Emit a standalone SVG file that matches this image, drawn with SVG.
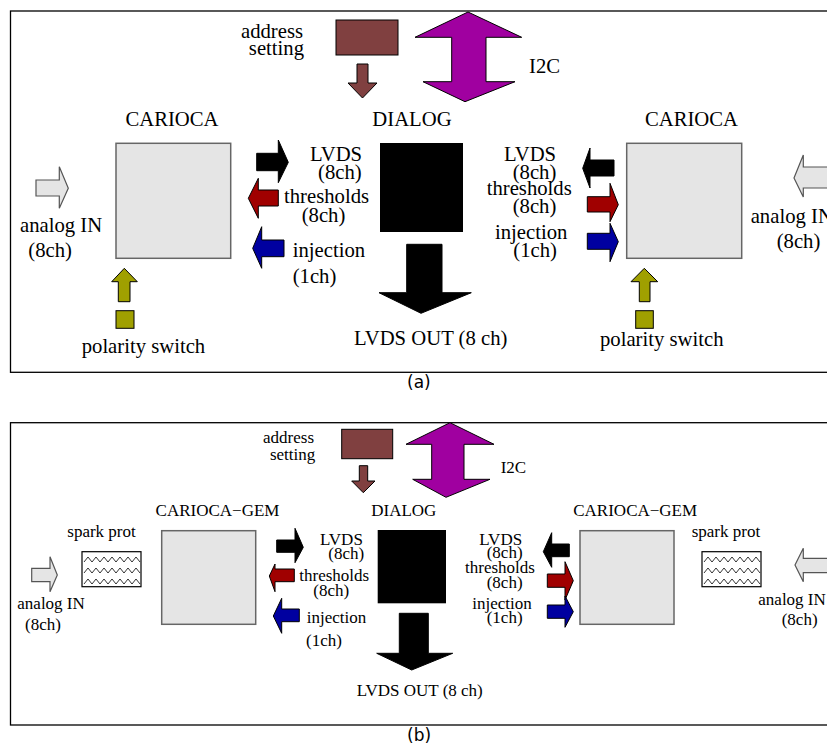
<svg xmlns="http://www.w3.org/2000/svg" width="827" height="743" viewBox="0 0 827 743">
<style>
text{font-family:"Liberation Serif","Times New Roman",serif;fill:#000}
.t{font-size:20.7px}
.b{font-size:17px}
.cap{font-family:"DejaVu Sans",sans-serif;font-size:17px}
.frame{fill:none;stroke:#000;stroke-width:1.3}
.chip{fill:#e5e5e5;stroke:#666;stroke-width:1.5}
.dlg{fill:#000}
.addr{fill:#804040;stroke:#000;stroke-width:1}
.spark{fill:#fff;stroke:#000;stroke-width:1.2}
.zz{fill:none;stroke:#000;stroke-width:0.8}
.sw{fill:#a0a000;stroke:#000;stroke-width:1}
.a-blk{fill:#000;stroke:#000;stroke-width:1}
.a-red{fill:#a00000;stroke:#000;stroke-width:1}
.a-blu{fill:#0000a0;stroke:#000;stroke-width:1}
.a-gry{fill:#e5e5e5;stroke:#555;stroke-width:1.2}
.a-brn{fill:#804040;stroke:#000;stroke-width:1}
.a-pur{fill:#a000a0;stroke:#000;stroke-width:1}
.a-olv{fill:#a0a000;stroke:#000;stroke-width:1}
.m{text-anchor:middle}
.e{text-anchor:end}
</style>
<defs>
<path id="zig" d="M0 0 l4 -5 4 5 4 -5 4 5 4 -5 4 5 4 -5 4 5 4 -5 4 5 4 -5 4 5 4 -5 4 5"/>
</defs>

<!-- ===== Panel (a) ===== -->
<g id="panel-a">
<rect class="frame" x="10.5" y="11" width="840" height="361.3"/>
<text class="cap" x="407" y="388">(a)</text>
</g>
<g id="a-address">
<rect class="addr" x="336" y="20" width="62" height="35"/>
<text class="t e" x="303" y="37.5">address</text>
<text class="t e" x="304" y="55">setting</text>
</g>
<g id="a-i2c"><text class="t" x="529" y="72.7">I2C</text></g>
<g id="a-dialog">
<text class="t m" x="412" y="125.7">DIALOG</text>
<rect class="dlg" x="380" y="143" width="83" height="89"/>
</g>
<g id="a-carioca-left">
<text class="t m" x="172" y="126">CARIOCA</text>
<rect class="chip" x="116" y="143.3" width="114.7" height="115"/>
</g>
<g id="a-carioca-right">
<text class="t m" x="691.5" y="126">CARIOCA</text>
<rect class="chip" x="626.7" y="143.3" width="115" height="115"/>
</g>
<g id="a-polarity-left">
<rect class="sw" x="116" y="310.7" width="18" height="17.6"/>
<text class="t" x="81.7" y="353.3">polarity switch</text>
</g>
<g id="a-polarity-right">
<rect class="sw" x="635.7" y="310.7" width="17.6" height="17.6"/>
<text class="t" x="600" y="345.7">polarity switch</text>
</g>
<g id="a-labels">
<text class="t" x="20" y="231.7">analog IN</text>
<text class="t" x="28.3" y="257.3">(8ch)</text>
<text class="t" x="750.7" y="222.7">analog IN</text>
<text class="t" x="776.7" y="248.3">(8ch)</text>
<text class="t" x="310" y="160.7">LVDS</text>
<text class="t" x="318" y="179">(8ch)</text>
<text class="t" x="284" y="203.3">thresholds</text>
<text class="t" x="301.7" y="221.7">(8ch)</text>
<text class="t" x="292.7" y="257.3">injection</text>
<text class="t" x="292.7" y="283.3">(1ch)</text>
<text class="t" x="504" y="160.7">LVDS</text>
<text class="t" x="512.7" y="179">(8ch)</text>
<text class="t" x="486.7" y="195">thresholds</text>
<text class="t" x="512.7" y="213.3">(8ch)</text>
<text class="t" x="495" y="239.3">injection</text>
<text class="t" x="513.3" y="256.7">(1ch)</text>
<text class="t" x="354" y="345">LVDS OUT (8 ch)</text>
</g>

<!-- ===== Panel (b) ===== -->
<g id="panel-b">
<rect class="frame" x="10.5" y="422.7" width="840" height="302.3"/>
<text class="cap" x="407" y="741">(b)</text>
</g>
<g id="b-address">
<rect class="addr" x="341.7" y="429.3" width="51" height="29.4"/>
<text class="b e" x="314" y="443.3">address</text>
<text class="b e" x="315.3" y="460">setting</text>
</g>
<g id="b-i2c"><text class="b" x="500.7" y="473.3">I2C</text></g>
<g id="b-dialog">
<text class="b m" x="403.8" y="516">DIALOG</text>
<rect class="dlg" x="377.7" y="530" width="68.3" height="73.3"/>
</g>
<g id="b-carioca-left">
<text class="b m" x="217.5" y="516">CARIOCA−GEM</text>
<rect class="chip" x="161.7" y="530.7" width="94" height="93.6"/>
</g>
<g id="b-carioca-right">
<text class="b m" x="635.2" y="516">CARIOCA−GEM</text>
<rect class="chip" x="580" y="530.7" width="94" height="93.6"/>
</g>
<g id="b-spark-left">
<text class="b" x="67.3" y="536.7">spark prot</text>
<rect class="spark" x="82" y="551.7" width="59" height="35"/>
<use href="#zig" class="zz" x="84" y="562"/>
<use href="#zig" class="zz" x="84" y="573"/>
<use href="#zig" class="zz" x="84" y="584"/>
</g>
<g id="b-spark-right">
<text class="b" x="691.7" y="536.7">spark prot</text>
<rect class="spark" x="702" y="551.7" width="59" height="35"/>
<use href="#zig" class="zz" x="704" y="562"/>
<use href="#zig" class="zz" x="704" y="573"/>
<use href="#zig" class="zz" x="704" y="584"/>
</g>
<g id="b-labels">
<text class="b" x="17.3" y="609.3">analog IN</text>
<text class="b" x="25" y="630">(8ch)</text>
<text class="b" x="758.3" y="605">analog IN</text>
<text class="b" x="781.7" y="625">(8ch)</text>
<text class="b" x="320" y="545">LVDS</text>
<text class="b" x="328.3" y="559">(8ch)</text>
<text class="b" x="299.3" y="580.7">thresholds</text>
<text class="b" x="313.3" y="596">(8ch)</text>
<text class="b" x="306.7" y="623.3">injection</text>
<text class="b" x="306" y="646">(1ch)</text>
<text class="b" x="479.3" y="545">LVDS</text>
<text class="b" x="486.7" y="558.3">(8ch)</text>
<text class="b" x="465" y="573.3">thresholds</text>
<text class="b" x="486.7" y="588.3">(8ch)</text>
<text class="b" x="472.3" y="609.3">injection</text>
<text class="b" x="486.7" y="623.3">(1ch)</text>
<text class="b" x="356.7" y="696">LVDS OUT (8 ch)</text>
</g>

<!-- ===== Connectors (block arrows) ===== -->
<g id="connectors">
<!-- panel a -->
<polygon class="a-brn" points="357,64 368,64 368,83 377,83 362.5,98 348,83 357,83"/>
<polygon class="a-pur" points="468,12 521.7,37.3 486,37.3 486,81.7 515,81.7 465,101.7 423,81.7 451.7,81.7 451.7,37.3 415,37.3"/>
<polygon class="a-blk" points="406.7,244.3 442,244.3 442,292.7 471.3,292.7 421,313.3 379,292.7 406.7,292.7"/>
<polygon class="a-blk" points="256.7,153.3 278.3,153.3 278.3,140 288.3,162.3 278.3,182.7 278.3,170.7 256.7,170.7"/>
<polygon class="a-red" points="278.3,190 258.3,190 258.3,178.3 248.3,198.3 258.3,218.3 258.3,206 278.3,206"/>
<polygon class="a-blu" points="284,240 261.7,240 261.7,226.7 252.7,248.3 261.7,268.3 261.7,256.7 284,256.7"/>
<polygon class="a-gry" points="36,180 59.3,180 59.3,166.7 68.3,188.3 59.3,208.3 59.3,196 36,196"/>
<polygon class="a-olv" points="118.3,301.7 118.3,281.7 111.7,281.7 124.3,268.3 137.3,281.7 130,281.7 130,301.7"/>
<polygon class="a-blk" points="614,160 590,160 590,148 582.7,168.3 590,188 590,176 614,176"/>
<polygon class="a-red" points="587.3,196.7 610,196.7 610,183.3 618.3,204.7 610,221.7 610,212 587.3,212"/>
<polygon class="a-blu" points="587.3,233.3 610,233.3 610,223.3 618.3,241.7 610,261.7 610,249.3 587.3,249.3"/>
<polygon class="a-gry" points="830,167 803.3,167 803.3,155 794,178 803.3,197 803.3,188 830,188"/>
<polygon class="a-olv" points="639.3,301.7 639.3,281.7 631,281.7 644.3,268.3 657.7,281.7 650,281.7 650,301.7"/>
<!-- panel b -->
<polygon class="a-brn" points="359.3,465.7 367.7,465.7 367.7,481 375,481 363.3,492.7 351.7,481 359.3,481"/>
<polygon class="a-pur" points="450,422.7 494,444.3 464,444.3 464,479.3 490,479.3 446,497.3 412.7,479.3 431.7,479.3 431.7,444.3 406,444.3"/>
<polygon class="a-blk" points="399.3,613.3 428.3,613.3 428.3,653.3 452.7,653.3 411.7,670 376.7,653.3 399.3,653.3"/>
<polygon class="a-blk" points="276.7,540 295,540 295,528.3 303.3,547.3 295,562.7 295,552.3 276.7,552.3"/>
<polygon class="a-red" points="294.3,569 275,569 275,564 269.3,576 275,591.7 275,581.7 294.3,581.7"/>
<polygon class="a-blu" points="299.3,609 281.7,609 281.7,598.3 273.3,616 281.7,633.3 281.7,621.7 299.3,621.7"/>
<polygon class="a-blk" points="569.3,544 551.7,544 551.7,532.7 543.3,551.7 551.7,567.3 551.7,556.7 569.3,556.7"/>
<polygon class="a-red" points="547.3,574 565,574 565,561.7 573.3,580.7 565,600 565,587.3 547.3,587.3"/>
<polygon class="a-blu" points="547.3,605 565,605 565,596 573.3,611.7 565,627.3 565,618.3 547.3,618.3"/>
<polygon class="a-gry" points="31.7,568.3 50,568.3 50,556.7 57.3,575 50,591.7 50,581.7 31.7,581.7"/>
<polygon class="a-gry" points="830,558.3 803.3,558.3 803.3,548.3 795,565 803.3,581.7 803.3,572.7 830,572.7"/>
</g>
</svg>
